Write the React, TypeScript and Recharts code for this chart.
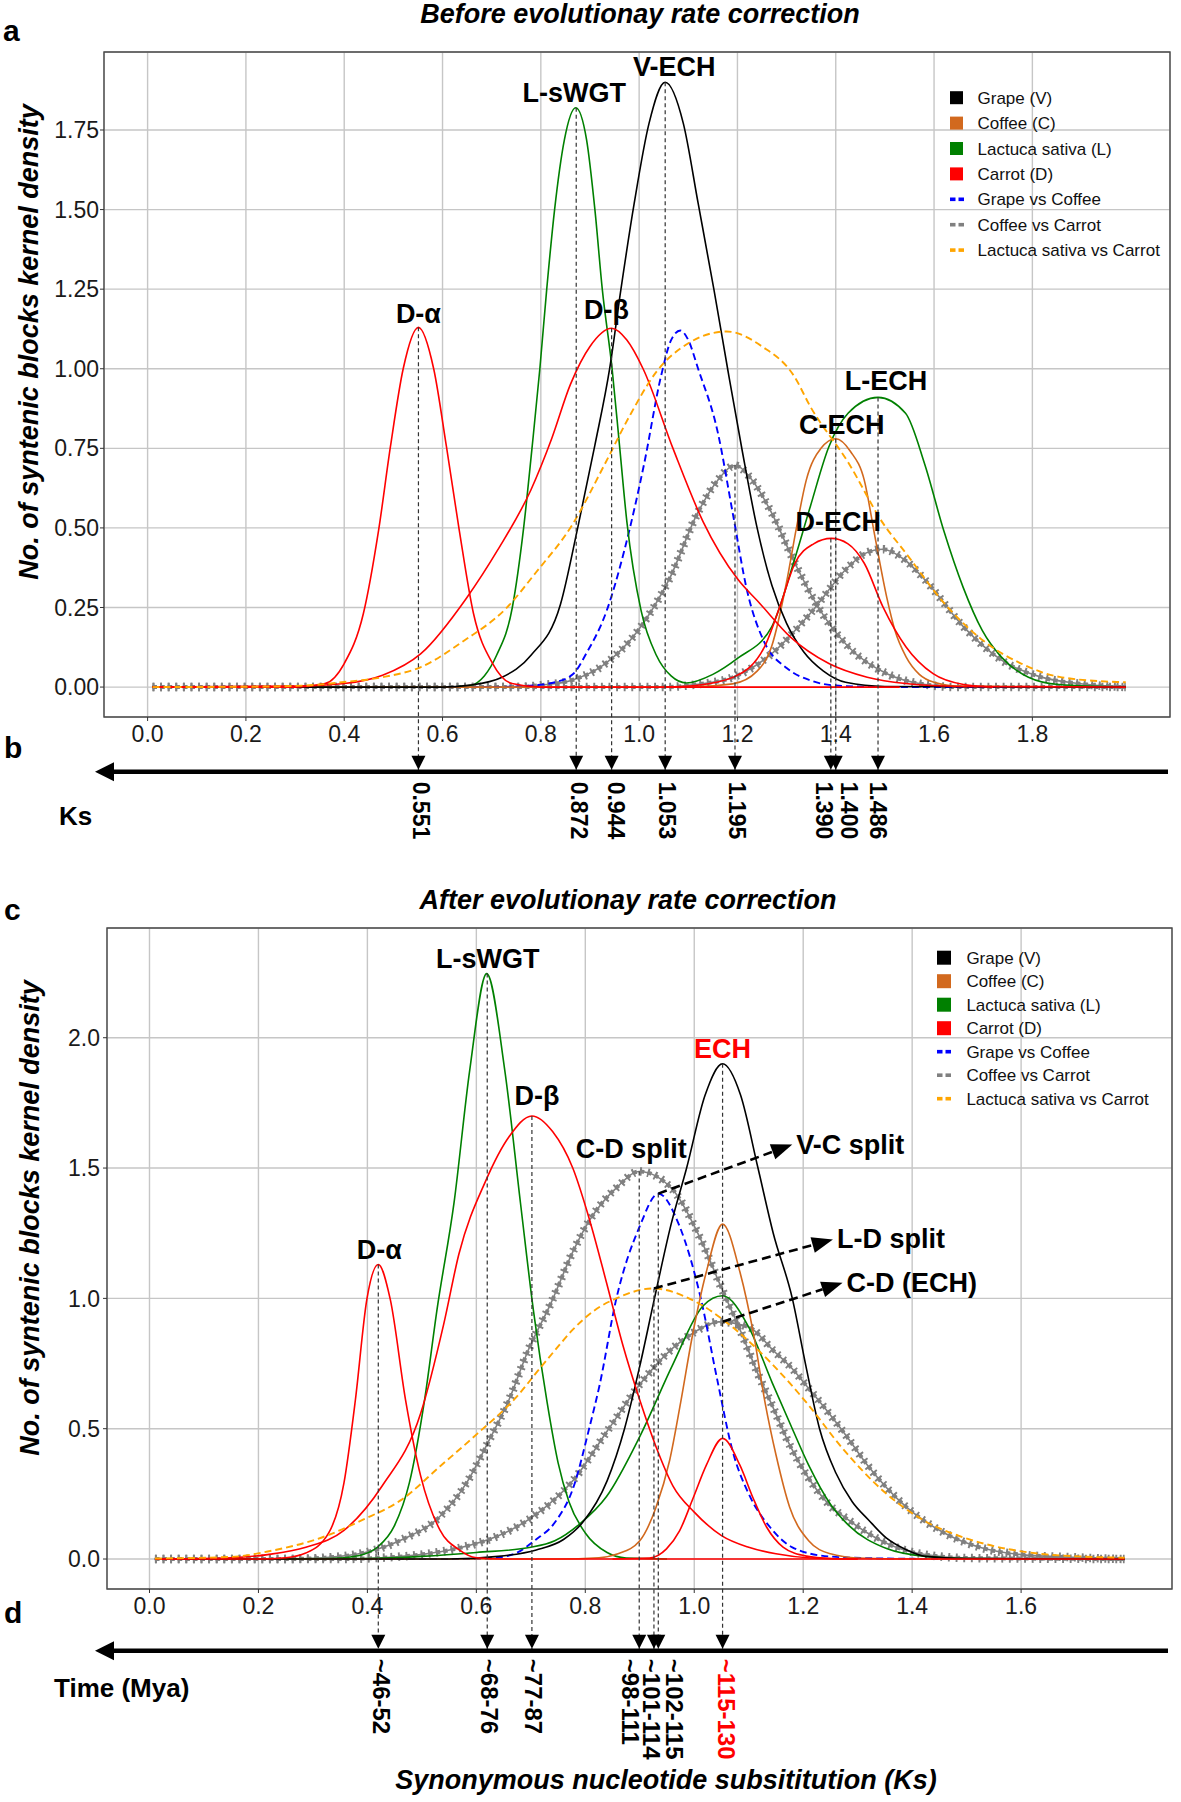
import React from "react";
import {
  LineChart,
  Line,
  XAxis,
  YAxis,
  CartesianGrid,
  ReferenceLine,
  ReferenceDot,
  ReferenceArea,
} from "recharts";

type Pt = [number, number];

const FONT = "'Liberation Sans', Arial, Helvetica, sans-serif";

const BLACK = "#000000";
const COFFEE = "#D2691E";
const GREEN = "#008000";
const RED = "#FF0000";
const BLUE = "#0000FF";
const GRAY = "#808080";
const ORANGE = "#FFA500";

// ---------- a: before evolutionary rate correction, [Ks, density] ----------
const GRAPE_A: Pt[] = [[0.01,0],[0.6,0],[0.656,0.006],[0.72,0.03],[0.78,0.1],[0.84,0.26],[0.875,0.5],[0.91,0.76],[0.94,1.0],[0.963,1.25],[0.99,1.52],[1.02,1.77],[1.053,1.9],[1.09,1.77],[1.12,1.52],[1.152,1.25],[1.18,1.0],[1.21,0.74],[1.24,0.5],[1.27,0.32],[1.3,0.2],[1.335,0.11],[1.375,0.05],[1.42,0.015],[1.5,0.002],[1.99,0]];
const COFFEE_A: Pt[] = [[0.01,0],[1.1,0],[1.19,0.01],[1.24,0.05],[1.27,0.13],[1.3,0.33],[1.32,0.5],[1.34,0.65],[1.37,0.75],[1.4,0.78],[1.43,0.74],[1.458,0.65],[1.48,0.47],[1.504,0.28],[1.52,0.18],[1.543,0.095],[1.57,0.04],[1.6,0.015],[1.65,0.003],[1.99,0]];
const LETTUCE_A: Pt[] = [[0.01,0],[0.6,0],[0.656,0.005],[0.685,0.035],[0.71,0.1],[0.742,0.25],[0.765,0.5],[0.782,0.75],[0.798,1.0],[0.812,1.25],[0.828,1.5],[0.848,1.72],[0.871,1.82],[0.893,1.72],[0.91,1.5],[0.925,1.25],[0.945,1.0],[0.96,0.76],[0.975,0.52],[1.004,0.24],[1.035,0.1],[1.065,0.035],[1.096,0.013],[1.15,0.04],[1.2,0.09],[1.27,0.19],[1.316,0.4],[1.348,0.566],[1.386,0.755],[1.425,0.86],[1.486,0.91],[1.542,0.86],[1.581,0.7],[1.62,0.49],[1.659,0.314],[1.698,0.178],[1.737,0.094],[1.792,0.031],[1.854,0.008],[1.99,0]];
const CARROT_A_ALPHA: Pt[] = [[0.01,0],[0.3,0],[0.361,0.011],[0.4,0.074],[0.439,0.231],[0.47,0.493],[0.494,0.755],[0.52,1.0],[0.551,1.13],[0.582,1.0],[0.608,0.755],[0.634,0.493],[0.663,0.231],[0.702,0.074],[0.741,0.011],[0.8,0],[1.53,0]];
const CARROT_A_BETA: Pt[] = [[0.01,0],[0.3,0.003],[0.4,0.011],[0.478,0.037],[0.556,0.105],[0.649,0.28],[0.712,0.43],[0.78,0.62],[0.822,0.78],[0.86,0.95],[0.9,1.07],[0.944,1.127],[0.975,1.09],[1.008,1.0],[1.069,0.749],[1.13,0.52],[1.2,0.34],[1.246,0.262],[1.308,0.157],[1.386,0.074],[1.464,0.031],[1.542,0.011],[1.65,0.002],[1.99,0]];
const CARROT_A_ECH: Pt[] = [[1.05,0],[1.115,0.005],[1.193,0.032],[1.255,0.126],[1.286,0.252],[1.317,0.389],[1.355,0.45],[1.391,0.467],[1.425,0.45],[1.458,0.389],[1.496,0.252],[1.543,0.126],[1.598,0.042],[1.66,0.008],[1.72,0]];
const GRAPE_COFFEE_A: Pt[] = [[0.01,0],[0.7,0],[0.79,0.006],[0.82,0.012],[0.865,0.04],[0.893,0.107],[0.934,0.24],[0.97,0.43],[1.01,0.7],[1.045,0.98],[1.065,1.09],[1.084,1.12],[1.1,1.09],[1.12,1.0],[1.16,0.8],[1.19,0.55],[1.22,0.3],[1.255,0.14],[1.3,0.06],[1.35,0.02],[1.4,0.005],[1.5,0],[1.99,0]];
const COFFEE_CARROT_A1: Pt[] = [[0.01,0],[0.75,0],[0.8,0.006],[0.86,0.02],[0.93,0.072],[0.997,0.176],[1.061,0.338],[1.12,0.55],[1.16,0.65],[1.195,0.696],[1.23,0.65],[1.27,0.546],[1.317,0.389],[1.364,0.252],[1.426,0.126],[1.504,0.042],[1.582,0.008],[1.65,0],[1.99,0]];
const COFFEE_CARROT_A2: Pt[] = [[0.01,0],[1.05,0],[1.115,0.008],[1.193,0.032],[1.27,0.105],[1.348,0.231],[1.426,0.378],[1.46,0.42],[1.496,0.433],[1.54,0.4],[1.582,0.336],[1.66,0.189],[1.738,0.084],[1.816,0.032],[1.894,0.011],[1.99,0]];
const LETTUCE_CARROT_A: Pt[] = [[0.01,0],[0.2,0.001],[0.321,0.005],[0.4,0.016],[0.478,0.031],[0.556,0.063],[0.645,0.147],[0.728,0.245],[0.79,0.36],[0.864,0.51],[0.93,0.7],[0.98,0.85],[1.035,0.99],[1.1,1.08],[1.178,1.117],[1.25,1.07],[1.316,0.975],[1.348,0.882],[1.426,0.704],[1.496,0.515],[1.543,0.42],[1.621,0.263],[1.699,0.147],[1.777,0.074],[1.855,0.032],[1.972,0.016],[1.99,0.015]];

// ---------- c: after evolutionary rate correction ----------
const GRAPE_C: Pt[] = [[0.01,0],[0.55,0],[0.64,0.01],[0.71,0.035],[0.76,0.075],[0.795,0.14],[0.84,0.3],[0.872,0.5],[0.9,0.74],[0.927,1.0],[0.957,1.28],[0.986,1.5],[1.02,1.78],[1.052,1.9],[1.085,1.78],[1.117,1.5],[1.145,1.25],[1.18,1.0],[1.205,0.74],[1.23,0.5],[1.26,0.33],[1.29,0.22],[1.32,0.15],[1.353,0.08],[1.39,0.035],[1.424,0.01],[1.5,0.002],[1.79,0]];
const COFFEE_C: Pt[] = [[0.01,0],[0.75,0],[0.825,0.005],[0.86,0.02],[0.9,0.07],[0.93,0.2],[0.955,0.38],[0.975,0.6],[0.996,0.85],[1.022,1.1],[1.052,1.285],[1.084,1.1],[1.11,0.85],[1.13,0.6],[1.15,0.4],[1.175,0.2],[1.21,0.07],[1.25,0.02],[1.3,0.004],[1.4,0],[1.79,0]];
const LETTUCE_C_WGT: Pt[] = [[0.01,0],[0.3,0],[0.357,0.005],[0.392,0.017],[0.42,0.048],[0.449,0.125],[0.477,0.292],[0.505,0.611],[0.528,0.96],[0.559,1.366],[0.588,1.878],[0.619,2.246],[0.652,1.878],[0.681,1.366],[0.705,0.95],[0.73,0.6],[0.75,0.37],[0.77,0.22],[0.8,0.1],[0.84,0.025],[0.875,0.004],[0.95,0]];
const LETTUCE_C_ECH: Pt[] = [[0.01,0],[0.4,0.002],[0.5,0.01],[0.6,0.025],[0.7,0.045],[0.744,0.07],[0.79,0.135],[0.839,0.24],[0.9,0.47],[0.961,0.748],[1.016,0.971],[1.052,1.01],[1.1,0.89],[1.143,0.677],[1.18,0.5],[1.21,0.36],[1.25,0.21],[1.283,0.13],[1.353,0.04],[1.424,0.01],[1.5,0.002],[1.79,0]];
const CARROT_C_ALPHA: Pt[] = [[0.01,0],[0.2,0],[0.25,0.005],[0.287,0.023],[0.329,0.1],[0.357,0.292],[0.378,0.611],[0.399,0.996],[0.42,1.13],[0.442,0.996],[0.47,0.611],[0.498,0.317],[0.533,0.112],[0.568,0.036],[0.6,0.005],[0.65,0],[1.3,0]];
const CARROT_C_BETA: Pt[] = [[0.01,0],[0.15,0.005],[0.217,0.017],[0.287,0.045],[0.357,0.11],[0.427,0.28],[0.498,0.56],[0.54,0.9],[0.568,1.17],[0.617,1.45],[0.66,1.62],[0.702,1.7],[0.74,1.64],[0.777,1.5],[0.808,1.3],[0.839,1.06],[0.869,0.82],[0.9,0.61],[0.93,0.43],[0.961,0.28],[1.0,0.18],[1.05,0.09],[1.1,0.045],[1.15,0.02],[1.214,0.004],[1.3,0],[1.79,0]];
const CARROT_C_ECH: Pt[] = [[0.85,0],[0.918,0.004],[0.949,0.039],[0.973,0.108],[0.998,0.234],[1.022,0.359],[1.052,0.463],[1.084,0.359],[1.108,0.234],[1.133,0.122],[1.163,0.046],[1.206,0.011],[1.25,0.002],[1.3,0]];
const GRAPE_COFFEE_C: Pt[] = [[0.01,0],[0.6,0],[0.638,0.005],[0.673,0.023],[0.709,0.074],[0.744,0.14],[0.779,0.28],[0.807,0.5],[0.826,0.665],[0.857,0.999],[0.9,1.277],[0.934,1.402],[0.973,1.277],[1.012,1.0],[1.042,0.69],[1.071,0.41],[1.1,0.25],[1.14,0.12],[1.18,0.045],[1.247,0.01],[1.35,0.002],[1.5,0],[1.79,0]];
const COFFEE_CARROT_C1: Pt[] = [[0.01,0],[0.25,0],[0.32,0.005],[0.392,0.023],[0.463,0.074],[0.533,0.163],[0.582,0.292],[0.624,0.458],[0.66,0.611],[0.695,0.8],[0.737,0.982],[0.779,1.187],[0.808,1.3],[0.86,1.43],[0.899,1.487],[0.961,1.416],[1.01,1.235],[1.05,1.04],[1.086,0.87],[1.115,0.72],[1.145,0.58],[1.177,0.43],[1.21,0.31],[1.247,0.21],[1.283,0.15],[1.318,0.1],[1.367,0.048],[1.424,0.017],[1.5,0.004],[1.79,0]];
const COFFEE_CARROT_C2: Pt[] = [[0.01,0],[0.35,0],[0.427,0.005],[0.498,0.017],[0.568,0.042],[0.638,0.087],[0.709,0.17],[0.777,0.3],[0.84,0.49],[0.9,0.67],[0.961,0.81],[1.0,0.87],[1.045,0.91],[1.1,0.89],[1.145,0.8],[1.18,0.73],[1.206,0.665],[1.247,0.56],[1.28,0.47],[1.318,0.36],[1.388,0.202],[1.459,0.1],[1.529,0.042],[1.6,0.017],[1.705,0.006],[1.79,0]];
const LETTUCE_CARROT_C: Pt[] = [[0.01,0.002],[0.15,0.008],[0.217,0.029],[0.322,0.087],[0.392,0.151],[0.463,0.228],[0.533,0.355],[0.603,0.483],[0.673,0.62],[0.716,0.73],[0.744,0.8],[0.777,0.88],[0.821,0.96],[0.857,1.0],[0.924,1.038],[1.0,0.99],[1.07,0.89],[1.142,0.75],[1.21,0.59],[1.27,0.43],[1.353,0.25],[1.424,0.145],[1.494,0.083],[1.564,0.043],[1.635,0.02],[1.705,0.01],[1.79,0.005]];

// axes
const X_TICKS_A = [0, 0.2, 0.4, 0.6, 0.8, 1.0, 1.2, 1.4, 1.6, 1.8];
const Y_TICKS_A = [0, 0.25, 0.5, 0.75, 1.0, 1.25, 1.5, 1.75];
const X_TICKS_C = [0, 0.2, 0.4, 0.6, 0.8, 1.0, 1.2, 1.4, 1.6];
const Y_TICKS_C = [0, 0.5, 1.0, 1.5, 2.0];

// dated events (Ks of peak, peak density, label under the arrow)
const KS_EVENTS_A = [0.551, 0.872, 0.944, 1.053, 1.195, 1.39, 1.4, 1.486];
const KS_PEAKS_A = [1.13, 1.82, 1.127, 1.9, 0.696, 0.467, 0.78, 0.91];
const KS_LABELS_A = ["0.551", "0.872", "0.944", "1.053", "1.195", "1.390", "1.400", "1.486"];
const KS_EVENTS_C = [0.42, 0.62, 0.702, 0.899, 0.926, 0.934, 1.052];
const KS_PEAKS_C = [1.13, 2.246, 1.7, 1.487, 1.038, 1.402, 1.9];
const MYA_LABELS_C = ["~46-52", "~68-76", "~77-87", "~98-111", "~101-114", "~102-115", "~115-130"];

// peak names
const PEAK_NAMES_A = ["D-α", "L-sWGT", "V-ECH", "D-β", "L-ECH", "C-ECH", "D-ECH"];
const PEAK_KS_A = [0.551, 0.872, 1.053, 0.944, 1.486, 1.4, 1.391];
const PEAK_Y_A = [1.13, 1.82, 1.9, 1.127, 0.91, 0.78, 0.467];
const PEAK_NAMES_C = ["D-α", "L-sWGT", "D-β", "C-D split", "ECH"];
const PEAK_KS_C = [0.42, 0.619, 0.702, 0.899, 1.052];
const PEAK_Y_C = [1.13, 2.246, 1.7, 1.487, 1.9];

// split arrows in c
const SPLIT_NAMES_C = ["V-C split", "L-D split", "C-D (ECH)"];
const SPLIT_KS_C = [0.934, 0.926, 1.052];
const SPLIT_Y_C = [1.402, 1.038, 0.91];

const LEGEND_NAMES = ["Grape (V)", "Coffee (C)", "Lactuca sativa (L)", "Carrot (D)", "Grape vs Coffee", "Coffee vs Carrot", "Lactuca sativa vs Carrot"];
const LEGEND_COLORS = [BLACK, COFFEE, GREEN, RED, BLUE, GRAY, ORANGE];

// ---------- layout (pixels) ----------
const KS_SHIFT_A = [3, 3, 4, 2, 2, -7, 13, 0];
const MYA_SHIFT_C = [3, 2, 2, -9, -2, 16, 4];
const PEAK_OFF_A = [[0, -4], [-2, -6], [9, -6], [-5, -9], [8, -7], [6, -5], [7, -7]];
const PEAK_OFF_C = [[1, -5], [1, -6], [5, -11], [-8, -13], [0, -6]];
const SPLIT_TIP_C = [[134, -49], [179, -49], [120, -39]];

type Style = "solid" | "dash" | "star";
type Series = { pts: Pt[]; color: string; style: Style };

const SERIES_A: Series[] = [
  { pts: COFFEE_CARROT_A1, color: GRAY, style: "star" },
  { pts: COFFEE_CARROT_A2, color: GRAY, style: "star" },
  { pts: GRAPE_COFFEE_A, color: BLUE, style: "dash" },
  { pts: LETTUCE_A, color: GREEN, style: "solid" },
  { pts: COFFEE_A, color: COFFEE, style: "solid" },
  { pts: GRAPE_A, color: BLACK, style: "solid" },
  { pts: CARROT_A_BETA, color: RED, style: "solid" },
  { pts: CARROT_A_ALPHA, color: RED, style: "solid" },
  { pts: CARROT_A_ECH, color: RED, style: "solid" },
  { pts: LETTUCE_CARROT_A, color: ORANGE, style: "dash" },
];

const SERIES_C: Series[] = [
  { pts: COFFEE_CARROT_C1, color: GRAY, style: "star" },
  { pts: COFFEE_CARROT_C2, color: GRAY, style: "star" },
  { pts: GRAPE_COFFEE_C, color: BLUE, style: "dash" },
  { pts: LETTUCE_C_WGT, color: GREEN, style: "solid" },
  { pts: LETTUCE_C_ECH, color: GREEN, style: "solid" },
  { pts: COFFEE_C, color: COFFEE, style: "solid" },
  { pts: GRAPE_C, color: BLACK, style: "solid" },
  { pts: CARROT_C_BETA, color: RED, style: "solid" },
  { pts: CARROT_C_ALPHA, color: RED, style: "solid" },
  { pts: CARROT_C_ECH, color: RED, style: "solid" },
  { pts: LETTUCE_CARROT_C, color: ORANGE, style: "dash" },
];

const rows = (pts: Pt[]) => pts.map(([x, y]) => ({ x, y }));

function seriesLines(list: Series[], prefix: string) {
  const out: React.ReactNode[] = [];
  list.forEach((s, i) => {
    const data = rows(s.pts);
    const common = { data, dataKey: "y", type: "monotone" as const, dot: false, isAnimationActive: false, activeDot: false };
    if (s.style === "star") {
      // dense asterisk-like markers along the curve
      out.push(<Line key={`${prefix}${i}a`} {...common} stroke={s.color} strokeWidth={4} strokeDasharray="4.4 3.2" />);
      out.push(<Line key={`${prefix}${i}b`} {...common} stroke={s.color} strokeWidth={8.5} strokeDasharray="1.9 5.7" />);
      out.push(<Line key={`${prefix}${i}c`} {...common} stroke={s.color} strokeWidth={1.6} />);
    } else if (s.style === "dash") {
      out.push(<Line key={`${prefix}${i}`} {...common} stroke={s.color} strokeWidth={1.9} strokeDasharray="7 4" />);
    } else {
      out.push(<Line key={`${prefix}${i}`} {...common} stroke={s.color} strokeWidth={1.6} />);
    }
  });
  return out;
}

const DownArrow = ({ cx, cy, text, shift, gap, size, color }: any) => (
  <g>
    <polygon points={`${cx - 7},${cy - 16} ${cx + 7},${cy - 16} ${cx},${cy - 2}`} fill="#000" />
    <text
      transform={`translate(${cx + shift},${cy + gap}) rotate(90)`}
      fontSize={size}
      fontWeight="bold"
      fill={color}
      dominantBaseline="central"
      fontFamily={FONT}
    >
      {text}
    </text>
  </g>
);

const PeakName = ({ cx, cy, text, dx, dy, color }: any) => (
  <text x={cx + dx} y={cy + dy} textAnchor="middle" fontSize={27} fontWeight="bold" fill={color} fontFamily={FONT}>
    {text}
  </text>
);

const SplitArrow = ({ cx, cy, text, dx, dy }: any) => {
  const tx = cx + dx;
  const ty = cy + dy;
  const len = Math.hypot(dx, dy);
  const ux = dx / len;
  const uy = dy / len;
  const bx = tx - ux * 21;
  const by = ty - uy * 21;
  return (
    <g>
      <line x1={cx} y1={cy} x2={bx} y2={by} stroke="#000" strokeWidth={2.6} strokeDasharray="9 5" />
      <polygon
        points={`${tx},${ty} ${bx - uy * 8},${by + ux * 8} ${bx + uy * 8},${by - ux * 8}`}
        fill="#000"
      />
      <text x={tx + 4} y={ty + 9} fontSize={27} fontWeight="bold" fill="#000" fontFamily={FONT}>
        {text}
      </text>
    </g>
  );
};

type PanelProps = {
  series: Series[];
  prefix: string;
  height: number;
  margin: { top: number; right: number; bottom: number; left: number };
  xDomain: [number, number];
  yDomain: [number, number];
  xTicks: number[];
  yTicks: number[];
  yDigits: number;
  yTickMargin: number;
  timeline: number;
  evKs: number[];
  evPeak: number[];
  evText: string[];
  evShift: number[];
  evGap: number;
  evSize: number;
  evColors: string[];
  peakNames: string[];
  peakKs: number[];
  peakY: number[];
  peakOff: number[][];
  peakColors: string[];
  splits?: { names: string[]; ks: number[]; y: number[]; tip: number[][] };
};

function Panel(p: PanelProps) {
  return (
    <LineChart width={1181} height={p.height} margin={p.margin}>
      <CartesianGrid stroke="#c6c6c6" strokeWidth={1.4} />
      <XAxis
        type="number"
        dataKey="x"
        domain={p.xDomain}
        ticks={p.xTicks}
        allowDataOverflow
        interval={0}
        tickFormatter={(v: number) => v.toFixed(1)}
        tick={{ fontSize: 23, fill: "#1a1a1a" }}
        tickLine={{ stroke: "#333" }}
        tickSize={4}
        tickMargin={5}
        axisLine={false}
        height={40}
      />
      <YAxis
        type="number"
        domain={p.yDomain}
        ticks={p.yTicks}
        allowDataOverflow
        interval={0}
        tickFormatter={(v: number) => v.toFixed(p.yDigits)}
        tick={{ fontSize: 23, fill: "#1a1a1a" }}
        tickLine={{ stroke: "#333" }}
        tickSize={4}
        tickMargin={p.yTickMargin}
        axisLine={false}
        width={60}
      />
      <ReferenceArea
        x1={p.xDomain[0]}
        x2={p.xDomain[1]}
        y1={p.yDomain[0]}
        y2={p.yDomain[1]}
        fill="none"
        stroke="#4a4a4a"
        strokeWidth={1.4}
        ifOverflow="visible"
      />
      {seriesLines(p.series, p.prefix)}
      {p.evKs.map((k, i) => (
        <ReferenceLine
          key={`g${i}`}
          segment={[{ x: k, y: p.evPeak[i] }, { x: k, y: p.timeline }]}
          stroke="#333"
          strokeWidth={1.2}
          strokeDasharray="4 3"
          ifOverflow="visible"
        />
      ))}
      {p.evKs.map((k, i) => (
        <ReferenceDot
          key={`e${i}`}
          x={k}
          y={p.timeline}
          r={1}
          ifOverflow="visible"
          shape={(d: any) => (
            <DownArrow cx={d.cx} cy={d.cy} text={p.evText[i]} shift={p.evShift[i]} gap={p.evGap} size={p.evSize} color={p.evColors[i]} />
          )}
        />
      ))}
      {p.peakNames.map((n, i) => (
        <ReferenceDot
          key={`n${i}`}
          x={p.peakKs[i]}
          y={p.peakY[i]}
          r={1}
          ifOverflow="visible"
          shape={(d: any) => (
            <PeakName cx={d.cx} cy={d.cy} text={n} dx={p.peakOff[i][0]} dy={p.peakOff[i][1]} color={p.peakColors[i]} />
          )}
        />
      ))}
      {p.splits &&
        p.splits.names.map((n, i) => (
          <ReferenceDot
            key={`s${i}`}
            x={p.splits!.ks[i]}
            y={p.splits!.y[i]}
            r={1}
            ifOverflow="visible"
            shape={(d: any) => (
              <SplitArrow cx={d.cx} cy={d.cy} text={n} dx={p.splits!.tip[i][0]} dy={p.splits!.tip[i][1]} />
            )}
          />
        ))}
    </LineChart>
  );
}

const Legend = ({ x, y0, step, box, textX }: { x: number; y0: number; step: number; box: number; textX: number }) => (
  <g>
    {LEGEND_NAMES.map((n, i) => {
      const yc = y0 + i * step;
      const dashed = i >= 4;
      return (
        <g key={n}>
          {dashed ? (
            <g>
              <rect x={x} y={yc - 1.8} width={5.5} height={3.6} fill={LEGEND_COLORS[i]} />
              <rect x={x + 8.5} y={yc - 1.8} width={5.5} height={3.6} fill={LEGEND_COLORS[i]} />
            </g>
          ) : (
            <rect x={x} y={yc - box / 2} width={box} height={box} fill={LEGEND_COLORS[i]} />
          )}
          <text x={textX} y={yc + 6} fontSize={17} fill="#111">
            {n}
          </text>
        </g>
      );
    })}
  </g>
);

const Timeline = ({ y }: { y: number }) => (
  <g>
    <line x1={108} y1={y} x2={1168} y2={y} stroke="#000" strokeWidth={4.6} />
    <polygon points={`95,${y} 114,${y - 9.5} 114,${y + 9.5}`} fill="#000" />
  </g>
);

export default function App() {
  const evColorsA = KS_LABELS_A.map(() => "#000");
  const evColorsC = MYA_LABELS_C.map((t, i) => (i === MYA_LABELS_C.length - 1 ? RED : "#000"));
  return (
    <div
      style={{
        position: "absolute",
        left: 0,
        top: 0,
        width: 1181,
        height: 1802,
        background: "#fff",
        fontFamily: FONT,
        overflow: "hidden",
      }}
    >
      <div style={{ position: "absolute", left: 0, top: 0 }}>
        <Panel
          series={SERIES_A}
          prefix="a"
          height={860}
          margin={{ top: 52, right: 11, bottom: 103, left: 44 }}
          xDomain={[-0.0887, 2.08]}
          yDomain={[-0.094, 1.995]}
          xTicks={X_TICKS_A}
          yTicks={Y_TICKS_A}
          yDigits={2}
          yTickMargin={1}
          timeline={-0.2658}
          evKs={KS_EVENTS_A}
          evPeak={KS_PEAKS_A}
          evText={KS_LABELS_A}
          evShift={KS_SHIFT_A}
          evGap={10}
          evSize={23}
          evColors={evColorsA}
          peakNames={PEAK_NAMES_A}
          peakKs={PEAK_KS_A}
          peakY={PEAK_Y_A}
          peakOff={PEAK_OFF_A}
          peakColors={PEAK_NAMES_A.map(() => "#000")}
        />
      </div>
      <div style={{ position: "absolute", left: 0, top: 870 }}>
        <Panel
          series={SERIES_C}
          prefix="c"
          height={932}
          margin={{ top: 58, right: 9, bottom: 173, left: 47 }}
          xDomain={[-0.078, 1.877]}
          yDomain={[-0.115, 2.421]}
          xTicks={X_TICKS_C}
          yTicks={Y_TICKS_C}
          yDigits={1}
          yTickMargin={3}
          timeline={-0.352}
          evKs={KS_EVENTS_C}
          evPeak={KS_PEAKS_C}
          evText={MYA_LABELS_C}
          evShift={MYA_SHIFT_C}
          evGap={8}
          evSize={24}
          evColors={evColorsC}
          peakNames={PEAK_NAMES_C}
          peakKs={PEAK_KS_C}
          peakY={PEAK_Y_C}
          peakOff={PEAK_OFF_C}
          peakColors={PEAK_NAMES_C.map((n) => (n === "ECH" ? RED : "#000"))}
          splits={{ names: SPLIT_NAMES_C, ks: SPLIT_KS_C, y: SPLIT_Y_C, tip: SPLIT_TIP_C }}
        />
      </div>
      <svg
        width={1181}
        height={1802}
        style={{ position: "absolute", left: 0, top: 0, pointerEvents: "none" }}
        fontFamily={FONT}
      >
        <text x={3} y={41} fontSize={30} fontWeight="bold">a</text>
        <text x={4} y={758} fontSize={30} fontWeight="bold">b</text>
        <text x={4} y={920} fontSize={30} fontWeight="bold">c</text>
        <text x={4} y={1623} fontSize={30} fontWeight="bold">d</text>

        <text x={640} y={23} textAnchor="middle" fontSize={27} fontWeight="bold" fontStyle="italic">
          Before evolutionay rate correction
        </text>
        <text x={628} y={909} textAnchor="middle" fontSize={27} fontWeight="bold" fontStyle="italic">
          After evolutionay rate correction
        </text>

        <text transform="translate(38,342) rotate(-90)" textAnchor="middle" fontSize={27} fontWeight="bold" fontStyle="italic">
          No. of syntenic blocks kernel density
        </text>
        <text transform="translate(39,1218) rotate(-90)" textAnchor="middle" fontSize={27} fontWeight="bold" fontStyle="italic">
          No. of syntenic blocks kernel density
        </text>

        <Legend x={950} y0={97.7} step={25.4} box={13} textX={977.5} />
        <Legend x={937} y0={957.7} step={23.5} box={14} textX={966.4} />

        <Timeline y={771.7} />
        <Timeline y={1650.7} />
        <text x={59} y={825} fontSize={26} fontWeight="bold">Ks</text>
        <text x={54} y={1697} fontSize={26} fontWeight="bold">Time (Mya)</text>

        <text x={666} y={1789} textAnchor="middle" fontSize={27} fontWeight="bold" fontStyle="italic">
          Synonymous nucleotide subsititution (Ks)
        </text>
      </svg>
    </div>
  );
}
